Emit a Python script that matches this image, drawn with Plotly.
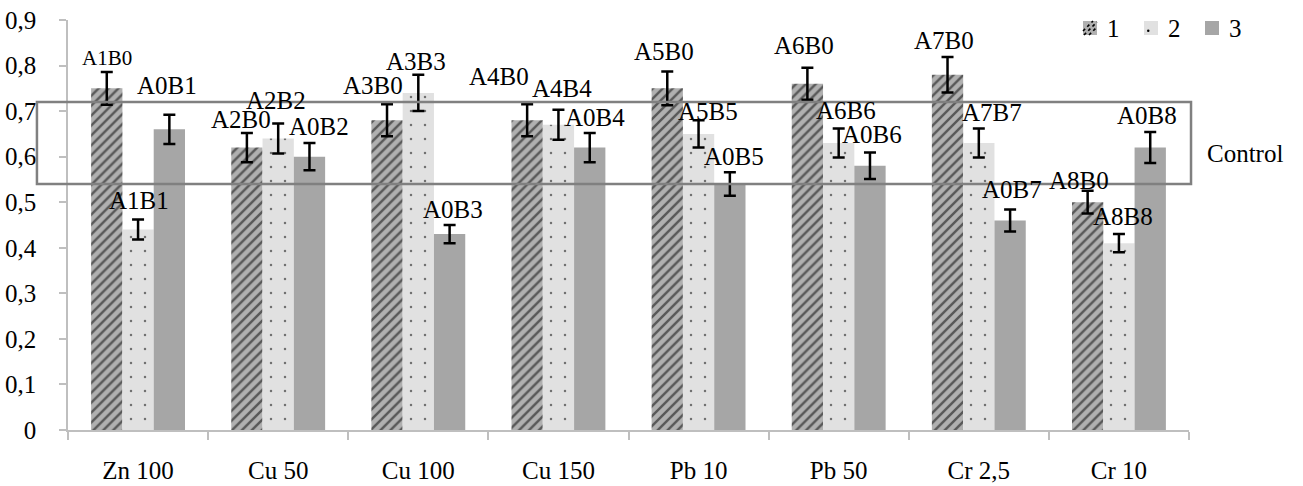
import plotly.graph_objects as go

categories = ["Zn 100", "Cu 50", "Cu 100", "Cu 150", "Pb 10", "Pb 50", "Cr 2,5", "Cr 10"]
series_names = ["1", "2", "3"]
s1 = [0.75, 0.62, 0.68, 0.68, 0.75, 0.76, 0.78, 0.50]
s2 = [0.44, 0.64, 0.74, 0.67, 0.65, 0.63, 0.63, 0.41]
s3 = [0.66, 0.60, 0.43, 0.62, 0.54, 0.58, 0.46, 0.62]
e1 = [0.036, 0.032, 0.035, 0.035, 0.037, 0.035, 0.039, 0.025]
e2 = [0.022, 0.033, 0.040, 0.033, 0.030, 0.032, 0.032, 0.020]
e3 = [0.032, 0.030, 0.020, 0.032, 0.026, 0.029, 0.024, 0.034]
lab1 = ["A1B0", "A2B0", "A3B0", "A4B0", "A5B0", "A6B0", "A7B0", "A8B0"]
lab2 = ["A1B1", "A2B2", "A3B3", "A4B4", "A5B5", "A6B6", "A7B7", "A8B8"]
lab3 = ["A0B1", "A0B2", "A0B3", "A0B4", "A0B5", "A0B6", "A0B7", "A0B8"]
control_low, control_high = 0.54, 0.72
control_text = "Control"
ytick_vals = [0, 0.1, 0.2, 0.3, 0.4, 0.5, 0.6, 0.7, 0.8, 0.9]
ytick_text = ["0", "0,1", "0,2", "0,3", "0,4", "0,5", "0,6", "0,7", "0,8", "0,9"]

# label pixel offsets (dx from bar centre, dy above bar top)
off1 = [(0, 30), (-6, 28), (-14, 35), (-28, 44), (-3, 37), (-3, 38), (-4, 34), (-9, 22)]
off2 = [(1, 29), (-2, 38), (-2, 31), (4, 36), (9, 22), (7, 33), (13, 31), (4, 27)]
off3 = [(-2, 44), (10, 30), (3, 25), (5, 30), (4, 28), (2, 31), (2, 31), (-3, 32)]

FONT = "Liberation Serif"
bargap = 0.33
bw = (1 - bargap) / 3

W, H = 1303, 486
ML, MR, MT, MB = 68, 114, 20, 56
PW, PH = W - ML - MR, H - MT - MB

def px(X):
    return (X - ML) / PW

def py(Y):
    return (H - MB - Y) / PH

patterns = [
    dict(shape="/", bgcolor="#b0b0b0", fgcolor="#000000", size=7, solidity=0.35),
    dict(shape=".", bgcolor="#e1e1e1", fgcolor="#000000", size=14, solidity=0.025),
    None,
]
colors = ["#b0b0b0", "#e1e1e1", "#a6a6a6"]

fig = go.Figure()
for k, (vals, errs) in enumerate([(s1, e1), (s2, e2), (s3, e3)]):
    marker = dict(color=colors[k], line=dict(width=0))
    if patterns[k] is not None:
        marker["pattern"] = patterns[k]
    fig.add_trace(go.Bar(
        x=categories, y=vals, name=series_names[k], marker=marker, showlegend=False,
        error_y=dict(type="data", array=errs, visible=True, color="#000000",
                     thickness=2.5, width=6),
    ))

annotations = []
for k, (vals, labs, offs) in enumerate([(s1, lab1, off1), (s2, lab2, off2), (s3, lab3, off3)]):
    for i, (v, t, (dx, dy)) in enumerate(zip(vals, labs, offs)):
        size = 21 if (k == 0 and i == 0) else 25
        annotations.append(dict(
            x=i + (k - 1) * bw, y=v, xref="x", yref="y", text=t, showarrow=False,
            xshift=dx, yshift=dy, xanchor="center", yanchor="middle",
            font=dict(family=FONT, size=size, color="#000000"),
        ))

annotations.append(dict(
    x=1.0143, y=(control_low + control_high) / 2 - 0.022, xref="paper", yref="y",
    text=control_text, showarrow=False, xanchor="left", yanchor="middle",
    font=dict(family=FONT, size=25, color="#000000"),
))

shapes = [dict(type="rect", xref="paper", yref="y", x0=-0.0277, x1=1.0018,
               y0=control_low, y1=control_high,
               line=dict(color="#808080", width=2.5), fillcolor="rgba(0,0,0,0)")]

# manual legend (pixel coordinates)
leg_x = [1083, 1144, 1205]
leg_y0, leg_y1 = 21, 35
for k, X in enumerate(leg_x):
    shapes.append(dict(type="rect", xref="paper", yref="paper",
                       x0=px(X), x1=px(X + 14), y0=py(leg_y1), y1=py(leg_y0),
                       line=dict(width=0), fillcolor=colors[k], layer="above"))
    annotations.append(dict(x=px(X + 22), y=py((leg_y0 + leg_y1) / 2), xref="paper",
                            yref="paper", text=series_names[k], showarrow=False,
                            xanchor="left", yanchor="middle",
                            font=dict(family=FONT, size=25, color="#000000")))
X = leg_x[0]
for a in [-4, 1, 6]:
    shapes.append(dict(type="line", xref="paper", yref="paper",
                       x0=px(X + max(a, 0)), y0=py(leg_y1 - max(-a, 0)),
                       x1=px(X + min(a + 14, 14)), y1=py(leg_y0 + max(a, 0)),
                       line=dict(color="#000000", width=1.6, dash="dot"), layer="above"))
X = leg_x[1]
shapes.append(dict(type="circle", xref="paper", yref="paper",
                   x0=px(X + 3), x1=px(X + 5.5), y0=py(leg_y1 - 3), y1=py(leg_y1 - 5.5),
                   fillcolor="#000000", line=dict(width=0), layer="above"))

fig.update_layout(
    width=W, height=H,
    margin=dict(l=ML, r=MR, t=MT, b=MB),
    paper_bgcolor="white", plot_bgcolor="white",
    barmode="group", bargap=bargap, bargroupgap=0,
    font=dict(family=FONT, size=25, color="#000000"),
    showlegend=False,
    annotations=annotations,
    shapes=shapes,
    xaxis=dict(type="category", showline=True, linecolor="#bfbfbf", linewidth=1.5,
               ticks="outside", tickson="boundaries", ticklen=8, tickcolor="#bfbfbf",
               tickwidth=1.5, showgrid=False, zeroline=False, ticklabelstandoff=17,
               automargin=False, ticklabeloverflow="allow",
               tickfont=dict(family=FONT, size=25, color="#000000")),
    yaxis=dict(range=[0, 0.9], showline=True, linecolor="#bfbfbf", linewidth=1.5,
               ticks="outside", ticklen=7, tickcolor="#bfbfbf", tickwidth=1.5,
               tickvals=ytick_vals, ticktext=ytick_text, showgrid=False, zeroline=False,
               ticklabelstandoff=18, automargin=False, ticklabeloverflow="allow",
               tickfont=dict(family=FONT, size=25, color="#000000")),
)

fig.write_html("out.html", config={"displayModeBar": False},
               post_script="document.body.style.margin='0px';")
